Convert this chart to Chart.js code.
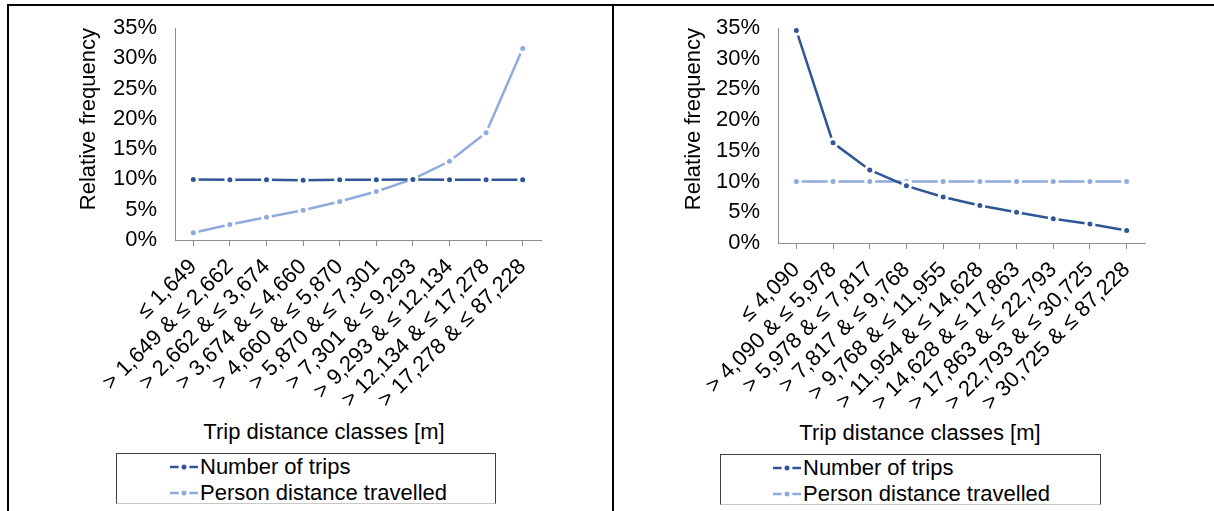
<!DOCTYPE html>
<html>
<head>
<meta charset="utf-8">
<script src="https://cdn.jsdelivr.net/npm/chart.js@4.4.1/dist/chart.umd.min.js"></script>
<style>
  body { margin: 0; background: #fff; width: 1214px; height: 511px; overflow: hidden; position: relative; font-family: "Liberation Sans", Arial, sans-serif; color: #000; }
  .rule { position: absolute; background: #000; }
  canvas { position: absolute; }
  .xtitle { position: absolute; font-size: 22px; white-space: nowrap; transform: translate(-50%, -50%); }
  .legend { position: absolute; box-sizing: border-box; border: 1px solid #404040; border-bottom-color: #c8c8c8; font-size: 22px; line-height: 26px; }
  .legend div { display: flex; align-items: center; height: 26px; white-space: nowrap; }
  .legend svg { margin-right: 2px; }
</style>
</head>
<body>
<div class="rule" style="left:7px;top:4px;width:1207px;height:2px"></div>
<div class="rule" style="left:7px;top:4px;width:2px;height:507px"></div>
<div class="rule" style="left:612px;top:4px;width:2px;height:507px"></div>

<canvas id="leftChart" width="600" height="410" style="left:9px;top:7px"></canvas>
<canvas id="rightChart" width="595" height="410" style="left:615px;top:7px"></canvas>

<div class="xtitle" style="left:324px;top:432px">Trip distance classes [m]</div>
<div class="xtitle" style="left:920px;top:433px">Trip distance classes [m]</div>

<div class="legend" id="leftLegend" style="left:116px;top:453px;width:380px;height:51px;padding-left:53px"></div>
<div class="legend" id="rightLegend" style="left:720px;top:454px;width:381px;height:51px;padding-left:52px"></div>

<script>
const seriesNames = ["Number of trips", "Person distance travelled"];
const yTickValues = [0, 5, 10, 15, 20, 25, 30, 35];

const leftCategories = ["≤ 1,649", "> 1,649 & ≤ 2,662", "> 2,662 & ≤ 3,674", "> 3,674 & ≤ 4,660", "> 4,660 & ≤ 5,870",
  "> 5,870 & ≤ 7,301", "> 7,301 & ≤ 9,293", "> 9,293 & ≤ 12,134", "> 12,134 & ≤ 17,278", "> 17,278 & ≤ 87,228"];
const leftTrips = [10.0, 9.95, 9.95, 9.85, 9.95, 9.95, 10.0, 9.95, 9.95, 9.95];
const leftDistance = [1.2, 2.55, 3.75, 4.9, 6.35, 8.0, 10.05, 13.0, 17.7, 31.6];

const rightCategories = ["≤ 4,090", "> 4,090 & ≤ 5,978", "> 5,978 & ≤ 7,817", "> 7,817 & ≤ 9,768", "> 9,768 & ≤ 11,955",
  "> 11,954 & ≤ 14,628", "> 14,628 & ≤ 17,863", "> 17,863 & ≤ 22,793", "> 22,793 & ≤ 30,725", "> 30,725 & ≤ 87,228"];
const rightTrips = [34.6, 16.3, 11.9, 9.3, 7.5, 6.1, 5.0, 3.95, 3.1, 2.05];
const rightDistance = [10.0, 10.0, 10.0, 10.0, 10.0, 10.0, 10.0, 10.0, 10.0, 10.0];

const colors = ["#2f5597", "#8faadc"];
const axisColor = "#8c8c8c";
const font = { family: '"Liberation Sans", Arial, sans-serif', size: 22 };

function series(label, values, color) {
  return {
    label, data: values, borderColor: color, backgroundColor: color, borderWidth: 2.5, tension: 0,
    pointRadius: 4, pointBorderWidth: 3, pointBorderColor: "#fff", pointBackgroundColor: color
  };
}

function drawChart(id, labels, trips, distance, box) {
  new Chart(document.getElementById(id), {
    type: "line",
    data: {
      labels,
      datasets: [series(seriesNames[0], trips, colors[0]), series(seriesNames[1], distance, colors[1])]
    },
    options: {
      responsive: false,
      animation: false,
      layout: { padding: { left: 0, top: box.top, right: box.right, bottom: 0 } },
      plugins: { legend: { display: false }, tooltip: { enabled: false } },
      scales: {
        x: {
          offset: true,
          grid: { display: true, drawOnChartArea: false, drawTicks: true, tickLength: 6, offset: false, color: axisColor },
          border: { color: axisColor, width: 1 },
          ticks: { minRotation: 45, maxRotation: 45, autoSkip: false, padding: 8, color: "#000", font },
          afterFit: s => { s.height = box.xHeight; }
        },
        y: {
          min: 0, max: 35,
          afterBuildTicks: s => { s.ticks = yTickValues.map(value => ({ value })); },
          grid: { display: true, drawOnChartArea: false, drawTicks: true, tickLength: 16, color: "rgba(0,0,0,0)" },
          border: { color: axisColor, width: 1 },
          ticks: { padding: 2, color: "#000", font, callback: v => v + "%" },
          title: { display: true, text: "Relative frequency", align: "end", color: "#000", font, padding: { top: box.titlePad, bottom: 0 } },
          afterFit: s => { s.width = box.yWidth; }
        }
      }
    }
  });
}

function drawLegend(id) {
  document.getElementById(id).innerHTML = seriesNames.map((name, i) =>
    `<div><svg width="28" height="12"><line x1="0" y1="6" x2="28" y2="6" stroke="${colors[i]}" stroke-width="2.5"/>` +
    `<circle cx="14" cy="6" r="4" fill="${colors[i]}" stroke="#fff" stroke-width="3"/></svg>${name}</div>`).join("");
}

drawChart("leftChart", leftCategories, leftTrips, leftDistance, { top: 21, right: 68, yWidth: 166, xHeight: 177, titlePad: 67 });
drawChart("rightChart", rightCategories, rightTrips, rightDistance, { top: 21, right: 65, yWidth: 163, xHeight: 174, titlePad: 66 });
drawLegend("leftLegend");
drawLegend("rightLegend");
</script>
</body>
</html>
